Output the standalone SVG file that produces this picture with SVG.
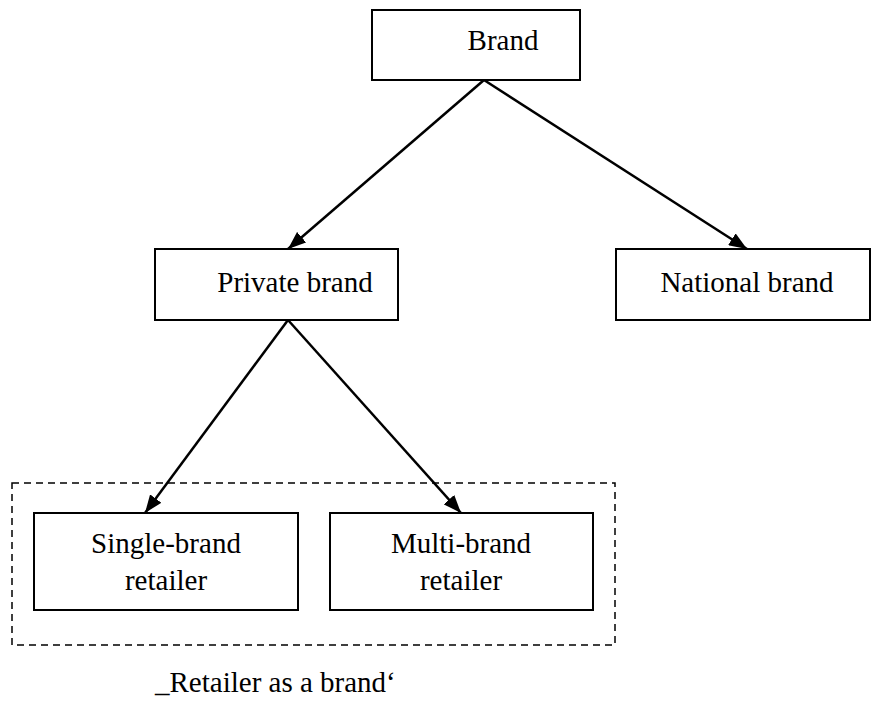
<svg xmlns="http://www.w3.org/2000/svg" width="872" height="709" viewBox="0 0 872 709">
<style>
.box{fill:#fff;stroke:#000;stroke-width:2}
.t{font-family:'Times New Roman','Liberation Serif','DejaVu Serif',serif;font-size:29px;fill:#000;text-anchor:middle}
.c{stroke:#000;stroke-width:2.5;fill:none;marker-end:url(#ah)}
</style>
<defs>
<marker id="ah" viewBox="0 0 18 14" refX="18" refY="7" markerWidth="18" markerHeight="14" markerUnits="userSpaceOnUse" orient="auto">
<path d="M0,0 L18,7 L0,14 Z" fill="#000"/>
</marker>
</defs>
<rect x="12" y="483" width="603" height="162" fill="none" stroke="#000" stroke-width="1.5" stroke-dasharray="7,5"/>
<g id="connectors">
<line class="c" x1="484" y1="80" x2="288" y2="249"/>
<line class="c" x1="484" y1="80" x2="747" y2="249"/>
<line class="c" x1="288" y1="320" x2="145" y2="513"/>
<line class="c" x1="288" y1="320" x2="461" y2="513"/>
</g>
<g id="brand">
<rect class="box" x="372" y="10" width="208" height="70"/>
<text class="t" x="503" y="50">Brand</text>
</g>
<g id="private">
<rect class="box" x="155" y="249" width="243" height="71"/>
<text class="t" x="295" y="292">Private brand</text>
</g>
<g id="national">
<rect class="box" x="616" y="249" width="254" height="71"/>
<text class="t" x="747" y="292">National brand</text>
</g>
<g id="single">
<rect class="box" x="34" y="513" width="264" height="97"/>
<text class="t" x="166" y="553">Single-brand</text>
<text class="t" x="166" y="590">retailer</text>
</g>
<g id="multi">
<rect class="box" x="330" y="513" width="263" height="97"/>
<text class="t" x="461" y="553">Multi-brand</text>
<text class="t" x="461" y="590">retailer</text>
</g>
<g id="label">
<text class="t" x="155" y="692" style="text-anchor:start">_Retailer as a brand‘</text>
</g>
</svg>
